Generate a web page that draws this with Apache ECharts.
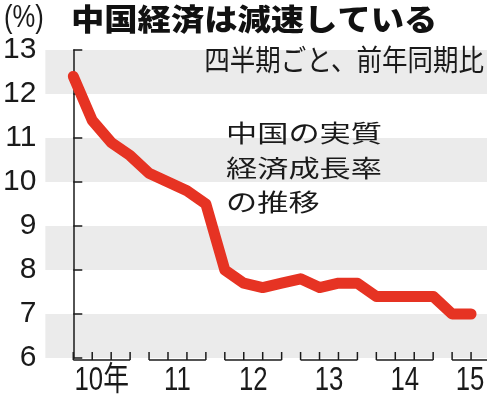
<!DOCTYPE html>
<html><head><meta charset="utf-8">
<script src="https://cdn.jsdelivr.net/npm/echarts@6/dist/echarts.min.js"></script>
<style>html,body{margin:0;padding:0;background:#fff}#c{width:490px;height:398px}</style>
</head><body><div id="c"></div>
<script>
// Year labels (each year = 4 quarters, first quarter index = 4*i)
const years = ['10年', '11', '12', '13', '14', '15'];
// Quarterly real GDP growth, 2010Q1 .. 2015Q2 (%)
const growth = [12.4, 11.4, 10.9, 10.6, 10.2, 10.0, 9.8, 9.5,
                8.0, 7.7, 7.6, 7.7, 7.8, 7.6, 7.7, 7.7,
                7.4, 7.4, 7.4, 7.4, 7.0, 7.0];
// y-axis ticks
const yTicks = [6, 7, 8, 9, 10, 11, 12, 13];

const INK = '#1a1a1a';
const xMin = -1.474, xMax = 21.842;

const chart = echarts.init(document.getElementById('c'), null, {renderer: 'canvas'});
const lineData = growth.map((v, i) => [i, v]);
const groupData = years.map((y, i) => [i * 4]);

function renderBracket(params, api) {
  const start = api.value(0);
  const label = years[params.dataIndex];
  const yBase = api.coord([0, yTicks[0]])[1] + 2;
  const yTop = yBase - 8;
  const endIdx = Math.min(start + 3, xMax);
  const x0 = api.coord([start, 0])[0];
  const x1 = api.coord([endIdx, 0])[0];
  const children = [{
    type: 'line', shape: {x1: x0, y1: yBase, x2: x1, y2: yBase},
    style: {stroke: INK, lineWidth: 1.5}
  }];
  for (let k = 0; k < 4; k++) {
    const idx = start + k;
    if (idx > xMax) break;
    const x = api.coord([idx, 0])[0];
    children.push({type: 'line', shape: {x1: x, y1: yBase, x2: x, y2: yTop},
      style: {stroke: INK, lineWidth: 1.5}});
  }
  const gridRight = api.coord([xMax, 0])[0];
  let cx = api.coord([start + 1.5, 0])[0];
  cx = Math.min(cx, gridRight - 17);
  children.push({
    type: 'text', x: cx, y: yBase + 21, scaleX: 0.78,
    style: {text: label, font: '33px "Liberation Sans", "Noto Sans CJK JP"', fill: INK,
      align: 'center', verticalAlign: 'middle'}
  });
  return {type: 'group', children};
}

const option = {
  animation: false,
  grid: {left: 44, right: 3, top: 50, bottom: 40},
  xAxis: {type: 'value', min: xMin, max: xMax, show: false},
  yAxis: {
    type: 'value', min: yTicks[0], max: yTicks[yTicks.length - 1], interval: 1,
    axisLine: {show: true, lineStyle: {color: INK, width: 1.5}},
    axisTick: {show: true, inside: true, length: 9, lineStyle: {color: INK, width: 1.5}},
    axisLabel: {fontSize: 30, color: INK, margin: 9,
      fontFamily: '"Liberation Sans Narrow", "Liberation Sans", sans-serif'},
    splitLine: {show: false},
    splitArea: {show: true, areaStyle: {color: ['#ebebeb', '#ffffff']}}
  },
  series: [
    {type: 'custom', data: groupData, renderItem: renderBracket, clip: false, silent: true, z: 1},
    {type: 'line', data: lineData, symbol: 'none', silent: true, z: 3,
      lineStyle: {color: '#e63323', width: 11, cap: 'round', join: 'round'}}
  ],
  graphic: [
    {type: 'text', x: 4, y: 18, scaleX: 0.8,
      style: {text: '(%)', font: '32px "Liberation Sans"', fill: INK, verticalAlign: 'middle'}},
    {type: 'text', x: 71, y: 19, scaleX: 1.11,
      style: {text: '中国経済は減速している', font: '900 30px "Noto Sans CJK JP"', fill: '#111', verticalAlign: 'middle'}},
    {type: 'text', x: 484, y: 60, scaleX: 0.88, z: 10,
      style: {text: '四半期ごと、前年同期比', font: '29px "Noto Sans CJK JP"', fill: INK, align: 'right', verticalAlign: 'middle'}},
    {type: 'text', x: 226, y: 133, scaleX: 1.3, z: 10,
      style: {text: '中国の実質', font: '24px "Noto Sans CJK JP"', fill: INK, verticalAlign: 'middle'}},
    {type: 'text', x: 226, y: 168, scaleX: 1.3, z: 10,
      style: {text: '経済成長率', font: '24px "Noto Sans CJK JP"', fill: INK, verticalAlign: 'middle'}},
    {type: 'text', x: 226, y: 202, scaleX: 1.3, z: 10,
      style: {text: 'の推移', font: '24px "Noto Sans CJK JP"', fill: INK, verticalAlign: 'middle'}}
  ]
};
chart.setOption(option);
</script>
</body></html>
